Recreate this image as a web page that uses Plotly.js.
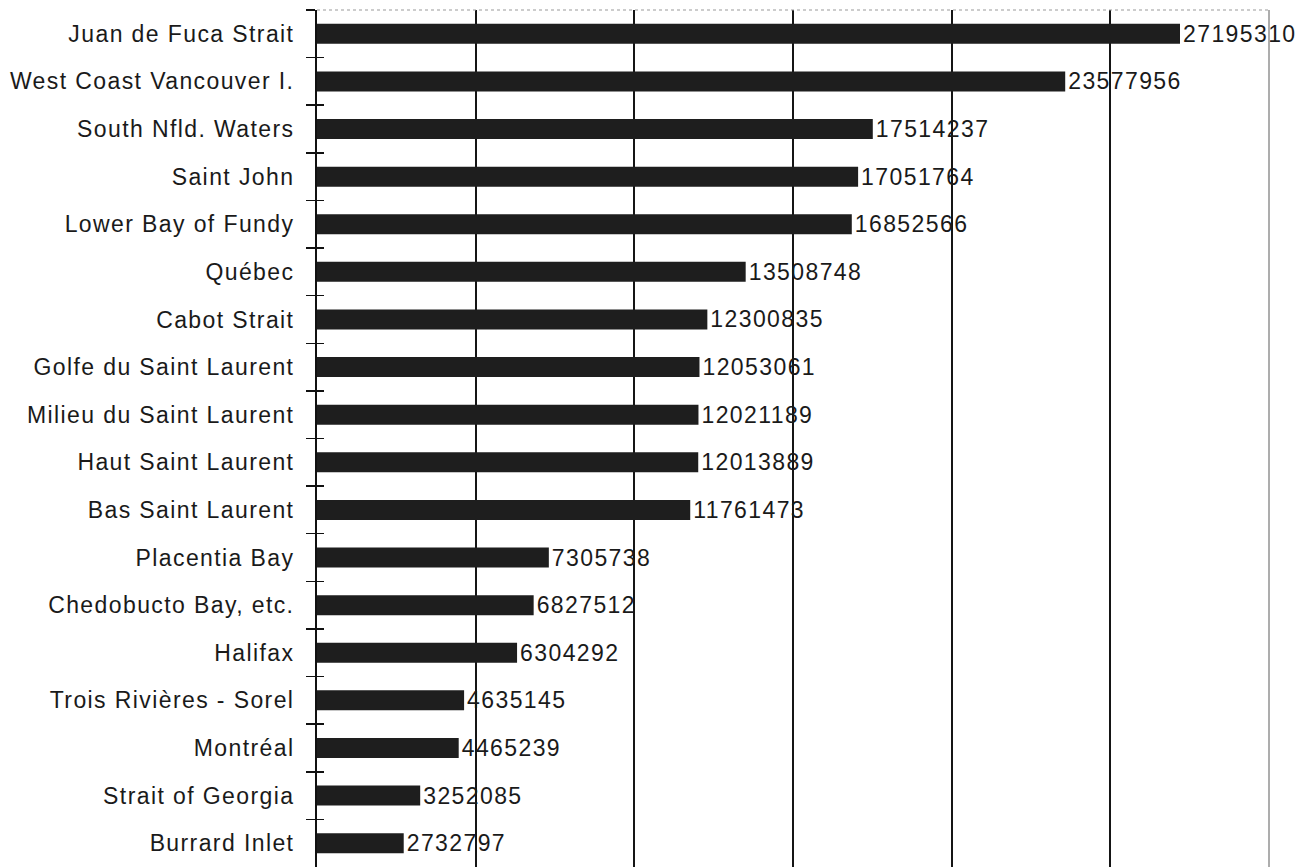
<!DOCTYPE html>
<html>
<head>
<meta charset="utf-8">
<script src="https://cdn.plot.ly/plotly-3.0.1.min.js"></script>
<style>
  html, body { margin: 0; padding: 0; background: #fff; }
  #chart { width: 1307px; height: 867px; }
  svg text { letter-spacing: 1.4px; }
</style>
</head>
<body>
<div id="chart"></div>
<script>
// Waterway regions, listed top to bottom
const regions = [
  "Juan de Fuca Strait",
  "West Coast Vancouver I.",
  "South Nfld. Waters",
  "Saint John",
  "Lower Bay of Fundy",
  "Québec",
  "Cabot Strait",
  "Golfe du Saint Laurent",
  "Milieu du Saint Laurent",
  "Haut Saint Laurent",
  "Bas Saint Laurent",
  "Placentia Bay",
  "Chedobucto Bay, etc.",
  "Halifax",
  "Trois Rivières - Sorel",
  "Montréal",
  "Strait of Georgia",
  "Burrard Inlet"
];

// Total per region
const totals = [
  27195310, 23577956, 17514237, 17051764, 16852566, 13508748,
  12300835, 12053061, 12021189, 12013889, 11761473, 7305738,
  6827512, 6304292, 4635145, 4465239, 3252085, 2732797
];

// Vertical gridline positions
const gridValues = [0, 5000000, 10000000, 15000000, 20000000, 25000000, 30000000];

const font = { family: "Liberation Sans, Arial, sans-serif", size: 23, color: "#1a1a1a" };

const bars = {
  type: "bar",
  orientation: "h",
  y: regions,
  x: totals,
  width: 0.42,
  marker: { color: "#1e1e1e", line: { width: 0 } },
  text: totals.map(String),
  textposition: "outside",
  textfont: font,
  constraintext: "none",
  cliponaxis: false,
  hoverinfo: "none"
};

// Invisible companion trace that carries the inside half of the crossing ticks
const tickTwin = {
  type: "bar",
  orientation: "h",
  y: regions,
  x: totals.map(() => 0),
  yaxis: "y2",
  showlegend: false,
  hoverinfo: "none",
  marker: { color: "rgba(0,0,0,0)" }
};

const layout = {
  width: 1307,
  height: 867,
  margin: { l: 317, r: 38, t: 10, b: 0 },
  paper_bgcolor: "#ffffff",
  plot_bgcolor: "#ffffff",
  showlegend: false,
  font: font,
  xaxis: {
    range: [0, 30000000],
    tickvals: gridValues,
    showticklabels: false,
    ticks: "",
    showgrid: true,
    gridcolor: "#151515",
    gridwidth: 2,
    zeroline: false,
    showline: false,
    fixedrange: true
  },
  yaxis: {
    type: "category",
    autorange: "reversed",
    tickson: "boundaries",
    ticks: "outside",
    ticklen: 9,
    tickwidth: 1.5,
    tickcolor: "#111111",
    ticklabelstandoff: 16,
    showline: true,
    linecolor: "#111111",
    linewidth: 2,
    showgrid: false,
    tickfont: font,
    fixedrange: true
  },
  yaxis2: {
    type: "category",
    overlaying: "y",
    side: "left",
    autorange: "reversed",
    tickson: "boundaries",
    ticks: "inside",
    ticklen: 7,
    tickwidth: 1.5,
    tickcolor: "#111111",
    showticklabels: false,
    showline: false,
    showgrid: false,
    fixedrange: true
  },
  shapes: [
    // faint frame along the top and right of the plotting area
    { type: "line", xref: "paper", yref: "paper", x0: 0, x1: 1, y0: 1, y1: 1,
      line: { color: "#9a9a9a", width: 1.2, dash: "dot" } },
    { type: "line", xref: "paper", yref: "paper", x0: 1, x1: 1, y0: 0, y1: 1,
      line: { color: "#8a8a8a", width: 1.4 } }
  ]
};

Plotly.newPlot("chart", [bars, tickTwin], layout, { staticPlot: true, displayModeBar: false });
</script>
</body>
</html>
